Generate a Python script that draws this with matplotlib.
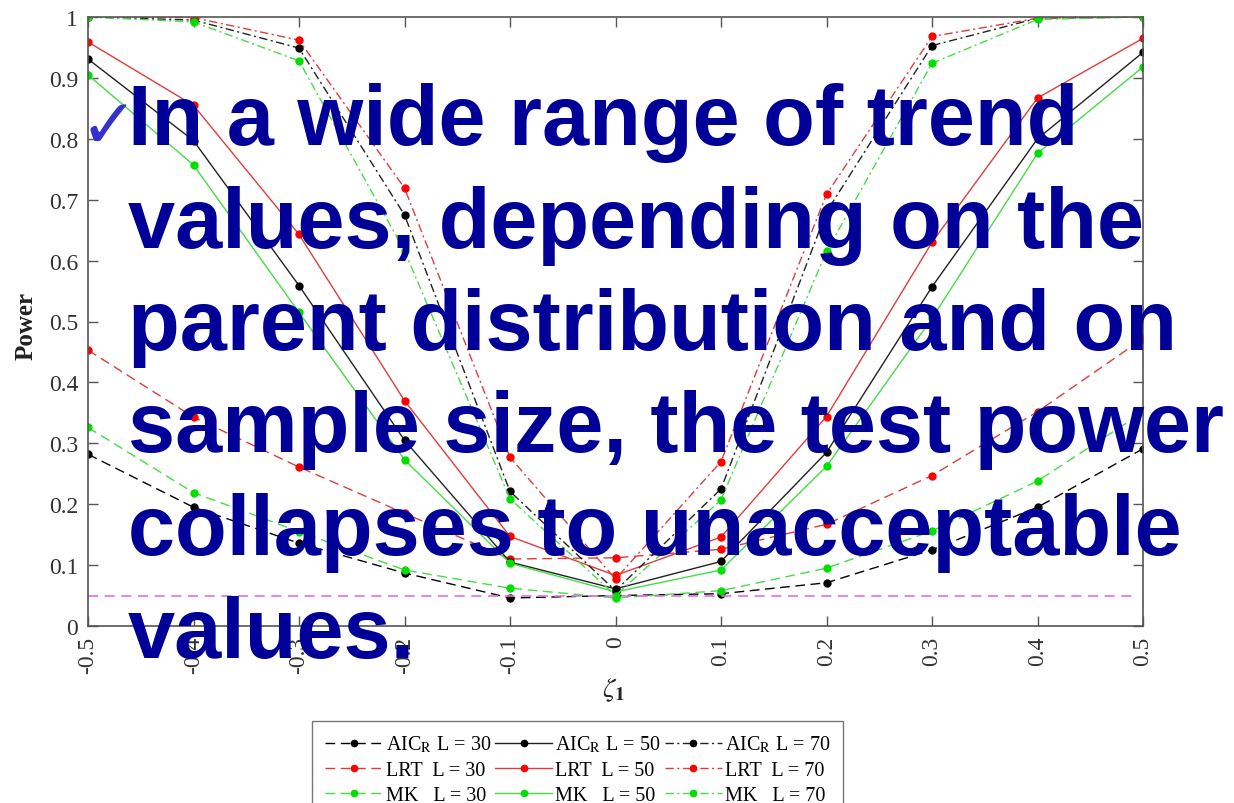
import matplotlib
matplotlib.use('Agg')
import matplotlib.pyplot as plt

# data
zeta = [-0.5, -0.4, -0.3, -0.2, -0.1, 0.0, 0.1, 0.2, 0.3, 0.4, 0.5]
xtick_labels = ['-0.5', '-0.4', '-0.3', '-0.2', '-0.1', '0', '0.1', '0.2', '0.3', '0.4', '0.5']
yticks = [0, 0.1, 0.2, 0.3, 0.4, 0.5, 0.6, 0.7, 0.8, 0.9, 1]
ytick_labels = ['0', '0.1', '0.2', '0.3', '0.4', '0.5', '0.6', '0.7', '0.8', '0.9', '1']

aic_30 = [0.282, 0.195, 0.136, 0.087, 0.046, 0.050, 0.053, 0.071, 0.125, 0.195, 0.291]
aic_50 = [0.931, 0.797, 0.559, 0.305, 0.105, 0.061, 0.106, 0.285, 0.557, 0.800, 0.942]
aic_70 = [1.000, 0.995, 0.949, 0.675, 0.221, 0.058, 0.225, 0.680, 0.953, 0.998, 1.000]

lrt_30 = [0.453, 0.343, 0.261, 0.185, 0.110, 0.112, 0.126, 0.167, 0.247, 0.352, 0.472]
lrt_50 = [0.959, 0.855, 0.643, 0.370, 0.147, 0.083, 0.146, 0.344, 0.630, 0.867, 0.965]
lrt_70 = [1.000, 0.999, 0.962, 0.719, 0.277, 0.077, 0.270, 0.709, 0.968, 0.998, 1.000]

mk_30 = [0.326, 0.219, 0.155, 0.092, 0.062, 0.046, 0.058, 0.095, 0.156, 0.238, 0.351]
mk_50 = [0.905, 0.757, 0.515, 0.273, 0.103, 0.056, 0.092, 0.262, 0.505, 0.776, 0.918]
mk_70 = [1.000, 0.992, 0.928, 0.616, 0.209, 0.050, 0.207, 0.615, 0.924, 0.996, 1.000]

alpha_level = 0.05

overlay_lines = ['In a wide range of trend',
                 'values, depending on the',
                 'parent distribution and on',
                 'sample size, the test power',
                 'collapses to unacceptable',
                 'values.']

plt.rcParams['font.family'] = ['Liberation Serif', 'DejaVu Serif']
plt.rcParams['mathtext.fontset'] = 'stix'

W, H = 1234, 804
fig = plt.figure(figsize=(W / 100, H / 100), dpi=100)
ax = fig.add_axes([88 / W, 1 - 627 / H, (1143 - 88) / W, (627 - 18) / H])

dash30 = (0, (7, 4))
dashdot70 = (0, (6, 2.5, 1.5, 2.5))

series = [
    (aic_30, 'black', 'black', dash30, 'AIC$_\\mathrm{R}$ L = 30'),
    (lrt_30, '#e03c3c', 'red', dash30, 'LRT  L = 30'),
    (mk_30, '#44dd44', '#00e000', dash30, 'MK   L = 30'),
    (aic_50, '#222222', 'black', '-', 'AIC$_\\mathrm{R}$ L = 50'),
    (lrt_50, '#e03c3c', 'red', '-', 'LRT  L = 50'),
    (mk_50, '#44dd44', '#00e000', '-', 'MK   L = 50'),
    (aic_70, '#222222', 'black', dashdot70, 'AIC$_\\mathrm{R}$ L = 70'),
    (lrt_70, '#e03c3c', 'red', dashdot70, 'LRT  L = 70'),
    (mk_70, '#44dd44', '#00e000', dashdot70, 'MK   L = 70'),
]

handles = []
for vals, lc, mc, ls, lab in series:
    h, = ax.plot(zeta, vals, color=lc, linestyle=ls, linewidth=1.0,
                 marker='o', markersize=5, markerfacecolor=mc, markeredgecolor=mc,
                 label=lab)
    handles.append(h)

ax.axhline(alpha_level, xmin=0, xmax=0.99, color='#e070e0', linestyle=(0, (6, 4)), linewidth=1.2)

ax.set_xlim(-0.5, 0.5)
ax.set_ylim(0, 1)
ax.set_xticks(zeta)
ax.set_xticklabels(xtick_labels, rotation=90)
ax.set_yticks(yticks)
ax.set_yticklabels(ytick_labels)
ax.tick_params(direction='in', top=True, right=True, length=7, width=1,
               labelsize=17, labelcolor='#333333', color='#555555', pad=7)
for sp in ax.spines.values():
    sp.set_color('#555555')
    sp.set_linewidth(1.2)

fig.text(26 / W, 1 - 326 / H, 'Power', rotation=90, ha='center', va='center',
         fontsize=18, fontweight='bold', color='#222222')
fig.text(614 / W, 1 - 690 / H, '$\\zeta_\\mathbf{1}$', ha='center', va='center',
         fontsize=20, color='#222222')

leg = fig.legend(handles=handles, ncol=3, loc='upper left',
                 bbox_to_anchor=(312 / W, 1 - 722 / H), fontsize=14.5,
                 frameon=True, fancybox=False, edgecolor='#555555',
                 handlelength=2.85, handletextpad=0.15, columnspacing=0.2,
                 labelspacing=0.3, borderpad=0.65, borderaxespad=0, markerscale=0.9)
leg.get_frame().set_linewidth(1.0)

# overlaid slide text
fig.text(80 / W, 1 - 148 / H, '\u2713', fontsize=50, color='#3333cc',
         family=['DejaVu Sans'], va='baseline', ha='left')
baselines = [145, 248, 350, 452, 555, 658]
for line, b in zip(overlay_lines, baselines):
    fig.text(128 / W, 1 - b / H, line, fontsize=61, fontweight='bold',
             color='#000099', family=['Liberation Sans', 'DejaVu Sans'],
             va='baseline', ha='left')

fig.savefig('out.png', dpi=100)
